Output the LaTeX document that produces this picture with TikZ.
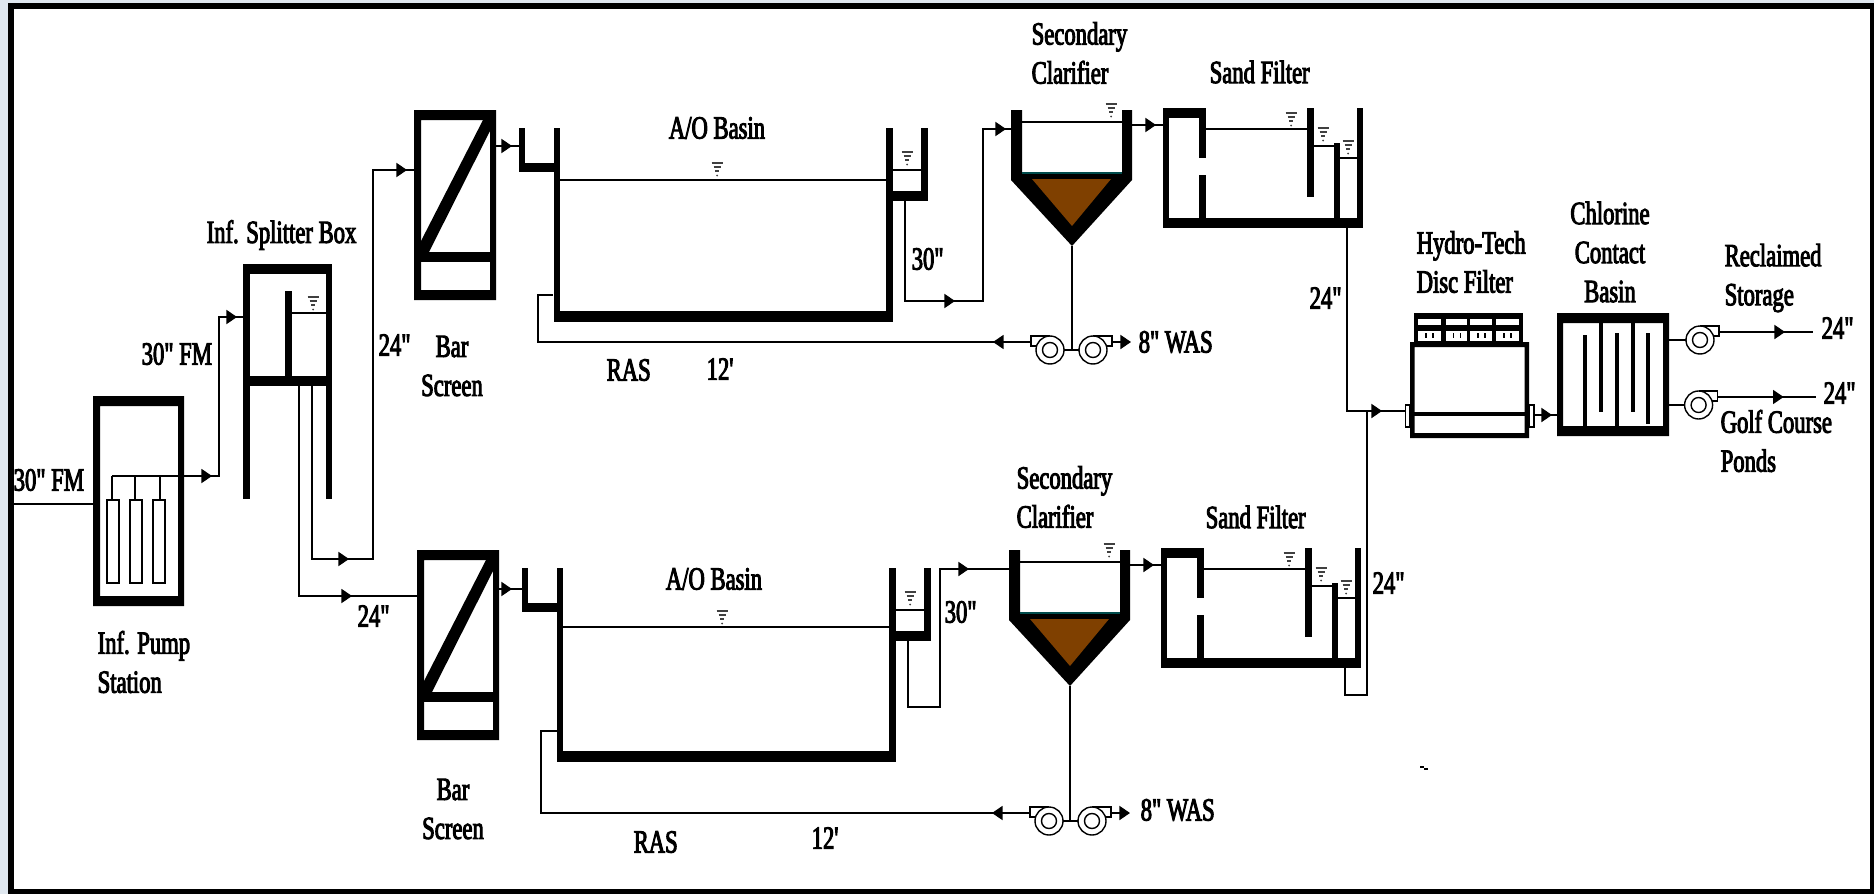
\documentclass[tikz,border=0pt]{standalone}
\usepackage{fontspec}
\setmainfont[Ligatures=TeXOff,FakeStretch=0.7,FakeBold=3]{Liberation Serif}
\usetikzlibrary{arrows.meta,decorations.markings}

\definecolor{sludge}{HTML}{7F4000}
\definecolor{margin}{HTML}{DFE7EF}

\tikzset{
    pipe/.style={line width=0.4pt},
    flowat/.style={postaction={decorate,decoration={markings,mark=at position #1*0.1mm with {\arrow{>}}}}},
    lbl/.style={inner sep=0pt,align=left,anchor=west,font=\fontsize{9.2}{11.1}\selectfont},
    clbl/.style={lbl,align=center,anchor=center},
    pics/pump/.style={code={
        \draw[pipe] (0,-14) -- (19,-14) -- (19,-4) -- (10,-4);
        \draw[pipe,fill=white] (0,0) circle (14);
        \draw[pipe] (0,0) circle (7.5);
        \coordinate (-out) at (19,-8);
        \coordinate (-in) at (-14,0);
    }},
    pics/level/.style={code={
        \draw[line width=0.35pt,black!75] (-5.5,0) -- (5.5,0) (-3.5,4) -- (3.5,4) (-2,8) -- (2,8);
        \fill[black!75] (0,12.5) circle (1);
    }}
}

\begin{document}
\begin{tikzpicture}[>={Triangle[length=3pt,width=4pt]},x=0.1mm,y=-0.1mm]
    \useasboundingbox (0,0) rectangle (1874,894);

    % Draw page margin and frame
    \fill[margin] (0,0) rectangle (1874,894);
    \fill (8,3) rectangle (1874,894);
    \fill[white] (14,9) rectangle (1870,889);

    % Draw influent pump station
    \fill[even odd rule] (93,396) rectangle (184,606) (100,406) rectangle (178,596);
    \foreach \x in {107,130,153}
        \draw[pipe] (\x,500) rectangle ++(12,83);
    \foreach \x in {112,135,160}
        \draw[pipe] (\x,476) -- (\x,500);
    \coordinate (inlet) at (14,504);
    \coordinate (pswest) at (93,504);
    \coordinate (header) at (112,476);

    % Draw splitter box
    \fill (243,264) rectangle (332,274);
    \fill (243,264) rectangle (250,499);
    \fill (326,264) rectangle (332,499);
    \fill (243,376) rectangle (332,386);
    \fill (285,291) rectangle (292,376);
    \draw[pipe] (292,313) -- (326,313);
    \pic at (313,297) {level};
    \coordinate (splin) at (243,317);
    \coordinate (splouta) at (312,386);
    \coordinate (sploutb) at (299,386);

    % Draw both treatment trains
    \foreach \Tr/\Bx/\Ax/\Cx/\Dy in {t/0/0/0/0,b/3/3/-2/440}{
        % Bar screen
        \begin{scope}[shift={(\Bx,\Dy)}]
            \fill[even odd rule] (414,110) rectangle (496,300) (421,120) rectangle (490,290);
            \fill (414,252) rectangle (496,262);
            \fill (421,252) -- (421,241) -- (483,120) -- (490,120) -- (490,131) -- (429,252) -- cycle;
        \end{scope}

        % Basin with inlet channel and outlet box
        \begin{scope}[shift={(\Ax,\Dy)}]
            \fill (519,128) rectangle (525,172);
            \fill (519,163) rectangle (554,172);
            \fill (554,128) rectangle (560,322);
            \fill (554,311) rectangle (892.5,322);
            \fill (886,128) rectangle (892.5,322);
            \fill (886,191) rectangle (927.5,201);
            \fill (921,128) rectangle (927.5,201);
            \draw[pipe] (892,170) -- (921,170);
            \pic at (907,152) {level};
            \coordinate (\Tr boxout) at (905,201);
        \end{scope}

        % Clarifier
        \begin{scope}[shift={(\Cx,\Dy)}]
            \fill (1011,110) -- (1011,180) -- (1072,246) -- (1132,180) -- (1132,110)
                -- (1122,110) -- (1122,173) -- (1022,173) -- (1022,110) -- cycle;
            \fill[sludge] (1032,179) -- (1111,179) -- (1072,226) -- cycle;
            \draw[line width=0.3pt,teal!60!black] (1022,173) -- (1122,173);
            \draw[pipe] (1022,122) -- (1122,122);
            \pic at (1111,104) {level};
            \coordinate (\Tr clin) at (1011,129);
            \coordinate (\Tr clout) at (1132,125);
            \coordinate (\Tr clbot) at (1072,246);
            \coordinate (\Tr flin) at (1163,125);
        \end{scope}

        % Sand filter
        \begin{scope}[shift={(\Cx,\Dy)}]
            \fill (1163,108) rectangle (1169,228);
            \fill (1163,108) rectangle (1206,118);
            \fill (1199,108) rectangle (1206,158);
            \fill (1199,175) rectangle (1206,228);
            \fill (1163,218) rectangle (1363,228);
            \fill (1357,108) rectangle (1363,228);
            \fill (1307,108) rectangle (1314,197);
            \fill (1334,143) rectangle (1340,228);
            \draw[pipe] (1206,129) -- (1307,129);
            \draw[pipe] (1314,146) -- (1334,146);
            \draw[pipe] (1340,158) -- (1357,158);
            \pic at (1291,113) {level};
            \pic at (1323,128) {level};
            \pic at (1348,141) {level};
            \coordinate (\Tr flout) at (1347,228);
        \end{scope}

        % Clarifier to filter
        \draw[pipe,flowat=24] (\Tr clout) -- (\Tr flin);
    }

    % Basin water surfaces
    \draw[pipe] (560,180) -- (886,180);
    \pic at (717,163) {level};
    \draw[pipe] (563,627) -- (889,627);
    \pic at (722,611) {level};

    % Draw RAS and WAS pumps
    \pic[xscale=-1] (tlp) at (1050,350) {pump};
    \pic (trp) at (1093,350) {pump};
    \pic[xscale=-1] (blp) at (1049,821) {pump};
    \pic (brp) at (1092,821) {pump};
    \coordinate (twas) at (1131,342);
    \coordinate (bwas) at (1130,813);
    \coordinate (trasin) at (553,295);
    \coordinate (brasin) at (557,731);

    % Draw disc filter
    \fill[even odd rule] (1410,342) rectangle (1529,438) (1414.5,347) rectangle (1524.5,433);
    \fill (1410,412) rectangle (1529,416);
    \draw[pipe] (1405.4,405) rectangle (1410,427);
    \draw[pipe] (1529,405) rectangle (1534,427);
    \fill (1414,313) rectangle (1523,342);
    \foreach \x/\w in {1418/23,1445.5/21,1470/21.5,1496/23}{
        \fill[white] (\x,319) rectangle ++(\w,6);
        \fill[white] (\x,331) rectangle ++(\w,10);
        \draw[pipe] (\x+8,333) -- ++(0,5);
        \draw[pipe] (\x+15,333) -- ++(0,5);
    }
    \coordinate (hdin) at (1405,411);
    \coordinate (hdjoin) at (1368,411);
    \coordinate (hdout) at (1534,415);

    % Draw chlorine contact basin
    \fill[even odd rule] (1557,313) rectangle (1669,436) (1563,323) rectangle (1663,426);
    \fill (1582.5,335) rectangle (1586.5,426);
    \fill (1598.5,323) rectangle (1602.5,412);
    \fill (1615,333) rectangle (1619,426);
    \fill (1631,323) rectangle (1635,412);
    \fill (1646,333) rectangle (1650,424);
    \coordinate (clin) at (1557,415);
    \coordinate (clouta) at (1669,340);
    \coordinate (cloutb) at (1669,405);

    % Draw effluent pumps
    \pic (cpa) at (1700,340) {pump};
    \pic (cpb) at (1698.6,405) {pump};
    \coordinate (enda) at (1813,332);
    \coordinate (endb) at (1816,397);

    % Draw connectors
    \draw[pipe] (inlet) -- (pswest);
    \draw[pipe,flowat=100,flowat=284] (header) -- ++(107,0) |- (splin);
    \draw[pipe,flowat=210,flowat=657] (splouta) |- ++(61,173) |- (414,170) coordinate (tbarin);
    \draw[pipe,flowat=263] (sploutb) |- (418,596) coordinate (bbarin);
    \draw[pipe,flowat=16] (496,146) coordinate (tbarout) -- (519,146) coordinate (tchin);
    \draw[pipe,flowat=14] (498,589) coordinate (bbarout) -- (522,589) coordinate (bchin);
    \draw[pipe,flowat=150,flowat=373] (tboxout) |- ++(78,100) |- (tclin);
    \draw[pipe,flowat=265] (bboxout) |- ++(32,66) |- (bclin);
    \draw[pipe] (tclbot) |- (trp-in);
    \draw[pipe] (tlp-in) -- (trp-in);
    \draw[pipe] (bclbot) |- (brp-in);
    \draw[pipe] (blp-in) -- (brp-in);
    \draw[pipe,flowat=38] (tlp-out) -- ++(-493,0) |- (trasin);
    \draw[pipe,flowat=38] (blp-out) -- ++(-489,0) |- (brasin);
    \draw[pipe,->] (trp-out) -- (twas);
    \draw[pipe,->] (brp-out) -- (bwas);
    \draw[pipe,flowat=218] (tflout) |- (hdin);
    \draw[pipe] (bflout) |- ++(22,27) |- (hdjoin);
    \draw[pipe,flowat=18] (hdout) -- (clin);
    \draw[pipe] (clouta) -- (cpa-in);
    \draw[pipe] (cloutb) -- (cpb-in);
    \draw[pipe,flowat=66] (cpa-out) -- (enda);
    \draw[pipe,flowat=66] (cpb-out) -- (endb);

    % Draw stray mark
    \draw[pipe] (1420,767) -- (1424,767) (1424,769) -- (1428,769);

    % Draw labels
    \node[lbl] (lblin) at (13,480) {30" FM};
    \node[lbl] (lblfm) at (141,354) {30" FM};
    \node[lbl] (lblps) at (97,662) {Inf. Pump\\Station};
    \node[lbl] (lblsp) at (206,235) {Inf. Splitter Box};
    \node[lbl] (lbltfa) at (378,345) {24"};
    \node[lbl] (lblbfa) at (357,616) {24"};
    \node[clbl] (lbltbar) at (452,366) {Bar\\Screen};
    \node[clbl] (lblbbar) at (453,809) {Bar\\Screen};
    \node[clbl] (lbltao) at (717,128) {A/O Basin};
    \node[clbl] (lblbao) at (714,579) {A/O Basin};
    \node[lbl] (lbltef) at (911,259) {30"};
    \node[lbl] (lblbef) at (944,612) {30"};
    \node[lbl] (lbltras) at (606,370) {RAS};
    \node[lbl] (lblbras) at (633,842) {RAS};
    \node[lbl] (lbltrl) at (706,369) {12'};
    \node[lbl] (lblbrl) at (811,838) {12'};
    \node[lbl] (lbltwas) at (1138,342) {8" WAS};
    \node[lbl] (lblbwas) at (1140,810) {8" WAS};
    \node[lbl] (lbltcl) at (1031,53) {Secondary\\Clarifier};
    \node[lbl] (lblbcl) at (1016,497) {Secondary\\Clarifier};
    \node[lbl] (lbltsf) at (1209,72) {Sand Filter};
    \node[lbl] (lblbsf) at (1205,517) {Sand Filter};
    \node[lbl] (lbltsfo) at (1309,298) {24"};
    \node[lbl] (lblbsfo) at (1372,583) {24"};
    \node[lbl] (lblhd) at (1416,262) {Hydro-Tech\\Disc Filter};
    \node[clbl] (lblcl) at (1610,252) {Chlorine\\Contact\\Basin};
    \node[lbl] (lblrs) at (1724,278) {Reclaimed\\Storage};
    \node[lbl] (lblgc) at (1720,441) {Golf Course\\Ponds};
    \node[lbl] (lblenda) at (1821,328) {24"};
    \node[lbl] (lblendb) at (1823,393) {24"};
\end{tikzpicture}
\end{document}
